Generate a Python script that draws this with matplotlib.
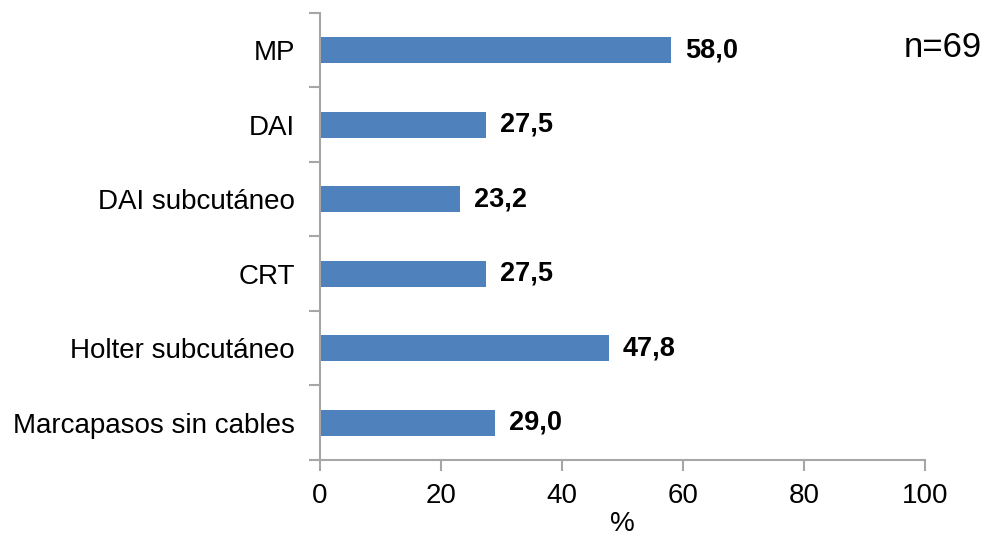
import matplotlib.pyplot as plt
import numpy as np

categories = ["MP", "DAI", "DAI subcutáneo", "CRT", "Holter subcutáneo", "Marcapasos sin cables"]
values = [58.0, 27.5, 23.2, 27.5, 47.8, 29.0]
x_ticks = [0, 20, 40, 60, 80, 100]

plt.rcParams['font.family'] = ['Liberation Sans', 'DejaVu Sans']

fig = plt.figure(figsize=(9.87, 5.41), dpi=100)
ax = fig.add_axes([0.324, 0.150, 0.613, 0.826])

y = np.arange(len(categories))
ax.barh(y, values, height=0.35, color="#4F81BD")

# value labels in bold, decimal comma
for yi, v in zip(y, values):
    label = f"{v:.1f}".replace(".", ",")
    ax.text(v + 2.3, yi, label, va="center", ha="left", fontsize=19.5, fontweight="bold")

ax.set_ylim(len(categories) - 0.5, -0.5)
ax.set_xlim(0, 100)
ax.set_yticks(y)
ax.set_yticklabels(categories, fontsize=20)
ax.set_yticks(np.arange(-0.5, len(categories), 1), minor=True)
ax.tick_params(axis="y", which="major", length=0, pad=18)
ax.tick_params(axis="y", which="minor", length=8, color="#A6A6A6", width=1.5)

ax.set_xticks(x_ticks)
ax.set_xticklabels([str(t) for t in x_ticks], fontsize=20)
ax.tick_params(axis="x", length=8, color="#A6A6A6", width=1.5, pad=9)
ax.set_xlabel("%", fontsize=20, labelpad=1)

for side in ["top", "right"]:
    ax.spines[side].set_visible(False)
for side in ["left", "bottom"]:
    ax.spines[side].set_color("#A6A6A6")
    ax.spines[side].set_linewidth(1.5)

fig.text(0.995, 0.913, "n=69", fontsize=25, ha="right", va="center")

fig.savefig("out.png", dpi=100)
